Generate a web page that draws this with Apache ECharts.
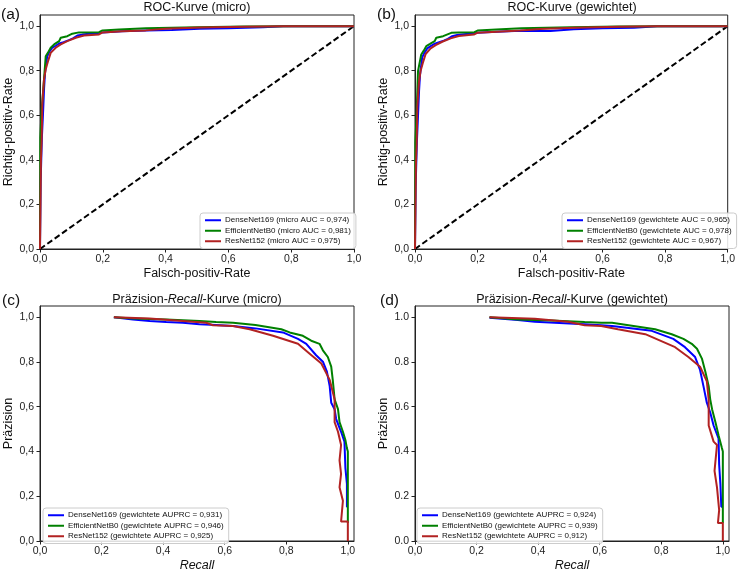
<!DOCTYPE html>
<html><head><meta charset="utf-8">
<script src="https://cdn.jsdelivr.net/npm/echarts@6/dist/echarts.min.js"></script>
<style>html,body{margin:0;padding:0;background:#fff}#c{width:738px;height:573px}</style>
</head><body><div id="c"></div>
<script>
// ---- tick labels ----
const ticks = [0, 0.2, 0.4, 0.6, 0.8, 1.0];

// ---- legend names ----
const namesA = ['DenseNet169 (micro AUC = 0,974)', 'EfficientNetB0 (micro AUC = 0,981)', 'ResNet152 (micro AUC = 0,975)'];
const namesB = ['DenseNet169 (gewichtete AUC = 0,965)', 'EfficientNetB0 (gewichtete AUC = 0,978)', 'ResNet152 (gewichtete AUC = 0,967)'];
const namesC = ['DenseNet169 (gewichtete AUPRC = 0,931)', 'EfficientNetB0 (gewichtete AUPRC = 0,946)', 'ResNet152 (gewichtete AUPRC = 0,925)'];
const namesD = ['DenseNet169 (gewichtete AUPRC = 0,924)', 'EfficientNetB0 (gewichtete AUPRC = 0,939)', 'ResNet152 (gewichtete AUPRC = 0,912)'];

// ---- ROC micro (FPR, TPR) ----
const rocMicroDense = [[0,0],[0.002,0.3],[0.006,0.5],[0.0097,0.611],[0.013,0.72],[0.016,0.79],[0.023,0.865],[0.03,0.885],[0.039,0.903],[0.05,0.912],[0.061,0.922],[0.075,0.928],[0.092,0.937],[0.105,0.945],[0.119,0.958],[0.135,0.962],[0.156,0.966],[0.18,0.968],[0.199,0.972],[0.26,0.977],[0.337,0.981],[0.42,0.983],[0.508,0.988],[0.6,0.99],[0.71,0.995],[0.774,1.0],[1,1]];
const rocMicroEff = [[0,0],[0.001,0.5],[0.005,0.62],[0.0128,0.761],[0.0182,0.865],[0.025,0.88],[0.034,0.903],[0.045,0.918],[0.061,0.933],[0.066,0.948],[0.087,0.955],[0.103,0.966],[0.124,0.972],[0.188,0.973],[0.199,0.981],[0.252,0.985],[0.337,0.99],[0.5,0.995],[0.65,0.998],[0.8,1.0],[1,1]];
const rocMicroRes = [[0,0],[0.003,0.4],[0.0053,0.49],[0.0075,0.656],[0.0128,0.761],[0.018,0.805],[0.025,0.84],[0.034,0.88],[0.05,0.903],[0.066,0.918],[0.087,0.933],[0.114,0.948],[0.14,0.958],[0.188,0.963],[0.199,0.972],[0.263,0.977],[0.337,0.981],[0.4,0.988],[0.508,0.994],[0.65,0.997],[0.774,1.0],[1,1]];

// ---- ROC weighted (FPR, TPR) ----
const rocWDense = [[0,0],[0.002,0.28],[0.006,0.48],[0.0097,0.6],[0.013,0.71],[0.016,0.78],[0.023,0.86],[0.03,0.88],[0.039,0.9],[0.05,0.91],[0.061,0.92],[0.075,0.927],[0.092,0.935],[0.105,0.943],[0.119,0.955],[0.135,0.96],[0.156,0.964],[0.18,0.967],[0.199,0.97],[0.26,0.975],[0.337,0.979],[0.433,0.978],[0.508,0.986],[0.6,0.99],[0.7,0.993],[0.774,1.0],[1,1]];
const rocWEff = [[0,0],[0.001,0.48],[0.005,0.6],[0.0096,0.798],[0.02,0.873],[0.028,0.89],[0.036,0.91],[0.048,0.92],[0.063,0.933],[0.068,0.948],[0.09,0.955],[0.116,0.97],[0.14,0.972],[0.19,0.973],[0.2,0.98],[0.26,0.985],[0.34,0.99],[0.5,0.995],[0.65,0.998],[0.8,1.0],[1,1]];
const rocWRes = [[0,0],[0.003,0.38],[0.0053,0.47],[0.0075,0.64],[0.0128,0.75],[0.018,0.8],[0.025,0.835],[0.034,0.875],[0.05,0.9],[0.066,0.915],[0.087,0.93],[0.114,0.945],[0.14,0.956],[0.188,0.962],[0.199,0.97],[0.263,0.975],[0.337,0.98],[0.4,0.987],[0.508,0.993],[0.65,0.997],[0.774,1.0],[1,1]];

// ---- chance line ----
const chance = [[0,0],[1,1]];

// ---- PR micro (Recall, Precision) ----
const prMicroDense = [[0.24,1.0],[0.302,0.99],[0.356,0.983],[0.41,0.978],[0.464,0.975],[0.518,0.968],[0.572,0.965],[0.627,0.961],[0.7,0.95],[0.789,0.932],[0.838,0.903],[0.865,0.881],[0.897,0.83],[0.919,0.801],[0.932,0.757],[0.941,0.692],[0.946,0.618],[0.957,0.589],[0.962,0.545],[0.978,0.488],[0.989,0.444],[0.992,0.327],[0.997,0.255],[0.997,0.153],[1.0,0.153]];
const prMicroEff = [[0.24,1.0],[0.302,0.994],[0.41,0.99],[0.518,0.983],[0.572,0.978],[0.627,0.975],[0.7,0.965],[0.784,0.946],[0.811,0.932],[0.854,0.917],[0.881,0.895],[0.908,0.881],[0.919,0.852],[0.935,0.822],[0.946,0.779],[0.951,0.72],[0.957,0.633],[0.968,0.589],[0.973,0.531],[0.984,0.488],[0.992,0.451],[0.997,0.415],[1.0,0.4],[1.0,0.08]];
const prMicroRes = [[0.24,1.0],[0.356,0.994],[0.464,0.983],[0.54,0.975],[0.562,0.964],[0.627,0.961],[0.681,0.946],[0.757,0.917],[0.838,0.881],[0.876,0.837],[0.914,0.793],[0.941,0.72],[0.957,0.633],[0.957,0.531],[0.968,0.488],[0.978,0.429],[0.973,0.36],[0.978,0.3],[0.973,0.24],[0.984,0.18],[0.978,0.087],[1.0,0.087],[1.0,0]];

// ---- PR weighted (Recall, Precision) ----
const prWDense = [[0.242,0.997],[0.334,0.987],[0.389,0.98],[0.453,0.975],[0.551,0.968],[0.605,0.964],[0.64,0.961],[0.769,0.939],[0.839,0.903],[0.877,0.866],[0.91,0.822],[0.926,0.764],[0.937,0.692],[0.948,0.618],[0.959,0.574],[0.97,0.516],[0.986,0.458],[0.988,0.342],[0.992,0.255],[0.995,0.153],[1.0,0.153]];
const prWEff = [[0.242,1.0],[0.334,0.99],[0.443,0.985],[0.551,0.978],[0.605,0.975],[0.64,0.975],[0.78,0.946],[0.834,0.924],[0.872,0.903],[0.899,0.881],[0.916,0.859],[0.932,0.815],[0.943,0.757],[0.954,0.692],[0.959,0.633],[0.965,0.589],[0.976,0.531],[0.986,0.473],[0.997,0.415],[1.0,0.4],[1.0,0.08]];
const prWRes = [[0.242,1.0],[0.389,0.993],[0.497,0.98],[0.551,0.964],[0.605,0.961],[0.659,0.946],[0.748,0.924],[0.845,0.866],[0.888,0.822],[0.926,0.779],[0.948,0.713],[0.954,0.633],[0.954,0.516],[0.97,0.444],[0.981,0.429],[0.973,0.313],[0.981,0.24],[0.988,0.138],[0.984,0.08],[1.0,0.08],[1.0,0]];

const COLORS = ['#0000ff', '#008000', '#b22222'];
const FONT = 'Liberation Sans';

const grids = [
  {left: 40, top: 15, width: 314, height: 234},
  {left: 415, top: 15, width: 314, height: 234},
  {left: 40, top: 306, width: 314, height: 239},
  {left: 415, top: 306, width: 314, height: 239}
].map(g => Object.assign({show: true, borderColor: '#222', borderWidth: 1, backgroundColor: '#fff', containLabel: false}, g));

function fmt(sep) { return v => v.toFixed(1).replace('.', sep); }

function xAx(i, name, xmax, italic) {
  return {
    type: 'value', gridIndex: i, min: 0, max: xmax,
    name: name, nameLocation: 'middle', nameGap: 18,
    nameTextStyle: {fontFamily: FONT, fontSize: 12.5, color: '#111', fontStyle: italic ? 'italic' : 'normal'},
    axisLine: {show: true, onZero: false, lineStyle: {color: '#222', width: 1}},
    axisTick: {show: true, length: 3.5, customValues: ticks, lineStyle: {color: '#222'}},
    axisLabel: {customValues: ticks, formatter: fmt(','), fontFamily: FONT, fontSize: 10.5, color: '#222', margin: 5},
    splitLine: {show: false}
  };
}
function yAx(i, name, sep, gap) {
  return {
    type: 'value', gridIndex: i, min: 0, max: 1.05,
    name: name, nameLocation: 'middle', nameGap: gap, nameRotate: 90,
    nameTextStyle: {fontFamily: FONT, fontSize: 12.5, color: '#111'},
    axisLine: {show: true, onZero: false, lineStyle: {color: '#222', width: 1}},
    axisTick: {show: true, length: 3.5, customValues: ticks, lineStyle: {color: '#222'}},
    axisLabel: {customValues: ticks, formatter: fmt(sep), fontFamily: FONT, fontSize: 10.5, color: '#222', margin: 6},
    splitLine: {show: false}
  };
}

const series = [];
function addCurves(gi, names, datas) {
  datas.forEach((d, k) => series.push({
    name: names[k], type: 'line', xAxisIndex: gi, yAxisIndex: gi, data: d,
    showSymbol: false, symbol: 'none', animation: false, z: 3 + k,
    lineStyle: {color: COLORS[k], width: 2}, itemStyle: {color: COLORS[k]}
  }));
}
function addChance(gi) {
  series.push({
    name: 'chance' + gi, type: 'line', xAxisIndex: gi, yAxisIndex: gi, data: chance,
    showSymbol: false, symbol: 'none', animation: false, z: 2,
    lineStyle: {color: '#000', width: 2, type: [6, 3]}
  });
}
addCurves(0, namesA, [rocMicroDense, rocMicroEff, rocMicroRes]); addChance(0);
addCurves(1, namesB, [rocWDense, rocWEff, rocWRes]); addChance(1);
addCurves(2, namesC, [prMicroDense, prMicroEff, prMicroRes]);
addCurves(3, namesD, [prWDense, prWEff, prWRes]);

function legend(names, left, top) {
  return {
    data: names, orient: 'vertical', left: left, top: top,
    icon: 'rect', itemWidth: 16, itemHeight: 2, itemGap: 2,
    padding: [3, 5, 3, 5], borderColor: '#ccc', borderWidth: 1, borderRadius: 3,
    backgroundColor: 'rgba(255,255,255,0.85)',
    textStyle: {fontFamily: FONT, fontSize: 8, color: '#111', lineHeight: 8.5, padding: [0, 0, 0, -1]},
    selectedMode: false
  };
}

function txt(text, x, y, size, align, rich) {
  const s = {text: text, x: x, y: y, fill: '#111', font: size + 'px "' + FONT + '"', textAlign: align, textVerticalAlign: 'middle'};
  if (rich) s.rich = rich;
  return {type: 'text', style: s, z: 10};
}
const richT = {n: {fontFamily: FONT, fontSize: 12.5, fill: '#111'}, i: {fontFamily: FONT, fontSize: 12.5, fontStyle: 'italic', fill: '#111'}};

const option = {
  animation: false,
  backgroundColor: '#fff',
  grid: grids,
  xAxis: [xAx(0, 'Falsch-positiv-Rate', 1), xAx(1, 'Falsch-positiv-Rate', 1), xAx(2, 'Recall', 1.02, true), xAx(3, 'Recall', 1.02, true)],
  yAxis: [yAx(0, 'Richtig-positiv-Rate', ',', 24), yAx(1, 'Richtig-positiv-Rate', ',', 24), yAx(2, 'Präzision', ',', 23), yAx(3, 'Präzision', '.', 23)],
  legend: [legend(namesA, 200, 213), legend(namesB, 562, 213), legend(namesC, 43, 508), legend(namesD, 417, 508)],
  series: series,
  graphic: [
    txt('(a)', 1, 15, 15.5, 'left'),
    txt('(b)', 377, 15, 15.5, 'left'),
    txt('(c)', 2, 301, 15.5, 'left'),
    txt('(d)', 380, 301, 15.5, 'left'),
    txt('ROC-Kurve (micro)', 197, 8, 12.5, 'center'),
    txt('ROC-Kurve (gewichtet)', 572, 8, 12.5, 'center'),
    txt('{n|Präzision-}{i|Recall}{n|-Kurve (micro)}', 197, 300, 12.5, 'center', richT),
    txt('{n|Präzision-}{i|Recall}{n|-Kurve (gewichtet)}', 572, 300, 12.5, 'center', richT)
  ]
};
const chart = echarts.init(document.getElementById('c'), null, {renderer: 'canvas'});
chart.setOption(option);
</script></body></html>
